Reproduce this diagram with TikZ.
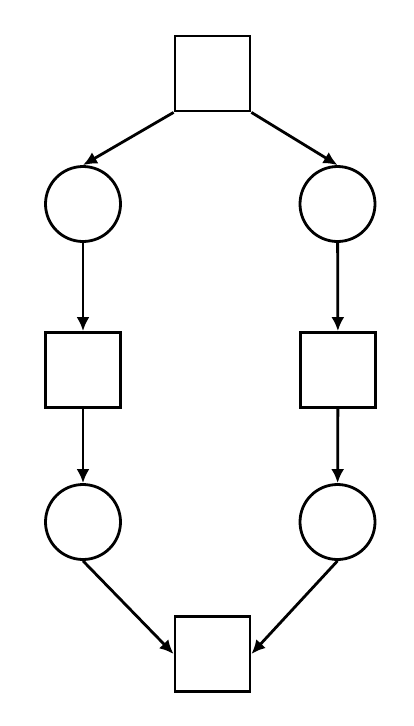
\documentclass[tikz,border=0pt]{standalone}
\usepackage{tikz}
\usetikzlibrary{arrows.meta}
\tikzset{
  trans/.style={draw,rectangle,minimum size=75pt,inner sep=0pt},
  place/.style={draw,circle,minimum size=75pt,inner sep=0pt}
}

\begin{document}
\begin{tikzpicture}[x=1pt,y=-1pt,line width=2.8pt,>={Latex[length=14pt,width=13pt]}]
      \useasboundingbox (0,0) rectangle (414,726);
      \node[trans] (t1) at (212.5,73.5) {};
      \node[place] (p1) at (83,204) {};
      \node[place] (p2) at (337.5,204) {};
      \node[trans] (t2) at (83,370) {};
      \node[trans] (t3) at (338,370) {};
      \node[place] (p3) at (83,522) {};
      \node[place] (p4) at (337.5,522) {};
      \node[trans] (t4) at (212.5,654) {};
      \draw[->] (t1.south west) -- (p1.north);
      \draw[->] (t1.south east) -- (p2.north);
      \draw[->] (p1) -- (t2);
      \draw[->] (p2) -- (t3);
      \draw[->] (t2) -- (p3);
      \draw[->] (t3) -- (p4);
      \draw[->] (p3.south) -- (t4.west);
      \draw[->] (p4.south) -- (t4.east);
    \end{tikzpicture}
\end{document}
